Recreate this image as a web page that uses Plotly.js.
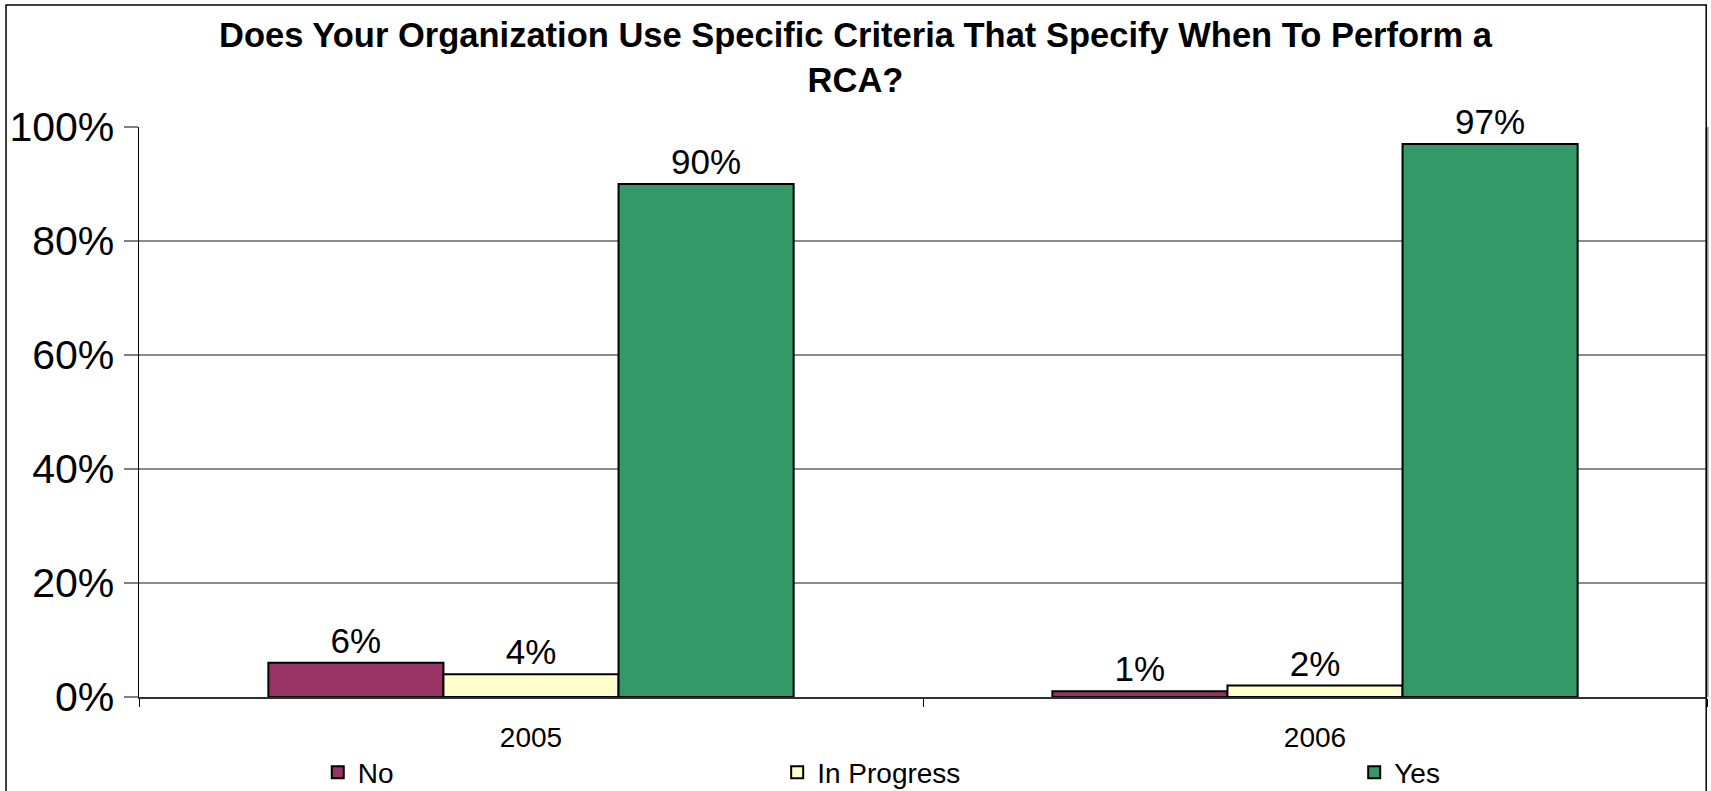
<!DOCTYPE html>
<html>
<head>
<meta charset="utf-8">
<script src="https://cdn.plot.ly/plotly-3.0.1.min.js"></script>
<style>
  html, body { margin: 0; padding: 0; background: #ffffff; }
  #chart { width: 1711px; height: 791px; }
</style>
</head>
<body>
<div id="chart"></div>
<script>
const categories = ['2005', '2006'];
const seriesNames = ['No', 'In Progress', 'Yes'];
const noValues = [0.06, 0.01];
const inProgressValues = [0.04, 0.02];
const yesValues = [0.90, 0.97];
const yTickValues = [0, 0.2, 0.4, 0.6, 0.8, 1.0];
const yTickLabels = ['0%', '20%', '40%', '60%', '80%', '100%'];
const titleText = 'Does Your Organization Use Specific Criteria That Specify When To Perform a<br>RCA?';

const FONT = 'Liberation Sans, Arial, Helvetica, sans-serif';
const colors = ['#993366', '#FFFFCC', '#339966'];
const allValues = [noValues, inProgressValues, yesValues];
const legendIds = ['legend', 'legend2', 'legend3'];

const traces = allValues.map((vals, i) => ({
  type: 'bar',
  name: seriesNames[i],
  x: categories,
  y: vals,
  text: vals.map(v => Math.round(v * 100) + '%'),
  textposition: 'outside',
  cliponaxis: false,
  textfont: { family: FONT, size: 35, color: '#000000' },
  marker: { color: colors[i], line: { color: '#000000', width: 2 } },
  legend: legendIds[i],
  hoverinfo: 'x+y+name'
}));

function legendAt(x) {
  return {
    orientation: 'h',
    x: x, xanchor: 'left',
    y: -0.1325, yanchor: 'middle',
    font: { family: FONT, size: 28, color: '#000000' },
    bgcolor: 'rgba(0,0,0,0)',
    borderwidth: 0
  };
}

const layout = {
  width: 1711,
  height: 791,
  paper_bgcolor: '#ffffff',
  plot_bgcolor: '#ffffff',
  margin: { l: 139, r: 4, t: 127, b: 94, pad: 0, autoexpand: false },
  font: { family: FONT, color: '#000000' },
  title: {
    text: titleText,
    font: { family: FONT, size: 34.5, color: '#000000', weight: 'bold' },
    x: 0.5, xref: 'container', xanchor: 'center',
    y: 0.94, yref: 'container', yanchor: 'middle'
  },
  barmode: 'group',
  bargap: 0.33,
  bargroupgap: 0,
  xaxis: {
    type: 'category',
    tickson: 'boundaries',
    ticks: 'outside',
    ticklen: 8,
    tickwidth: 1,
    tickcolor: '#000000',
    showline: true,
    linecolor: '#303030',
    linewidth: 2,
    showgrid: false,
    tickfont: { family: FONT, size: 28, color: '#000000' },
    ticklabelstandoff: 14,
    automargin: false,
    fixedrange: true
  },
  yaxis: {
    range: [0, 1],
    tickvals: yTickValues,
    ticktext: yTickLabels,
    ticks: 'outside',
    ticklen: 14,
    tickwidth: 1.5,
    tickcolor: '#808080',
    showline: true,
    linecolor: '#000000',
    linewidth: 1.5,
    showgrid: true,
    gridcolor: '#8c8c8c',
    gridwidth: 2,
    zeroline: false,
    tickfont: { family: FONT, size: 41, color: '#000000' },
    ticklabelstandoff: 1,
    automargin: false,
    fixedrange: true
  },
  legend: legendAt(0.114),
  legend2: legendAt(0.407),
  legend3: legendAt(0.775),
  showlegend: true,
  shapes: [
    { type: 'line', xref: 'paper', yref: 'paper', x0: 1, x1: 1, y0: 0, y1: 1,
      line: { color: '#8c8c8c', width: 3 } },
    { type: 'rect', xref: 'paper', yref: 'paper', x0: -0.0848, x1: 0.9995, y0: -0.2, y1: 1.214,
      line: { color: '#000000', width: 1.5 }, fillcolor: 'rgba(0,0,0,0)', layer: 'above' }
  ]
};

Plotly.newPlot('chart', traces, layout, { displayModeBar: false, staticPlot: true });
</script>
</body>
</html>
